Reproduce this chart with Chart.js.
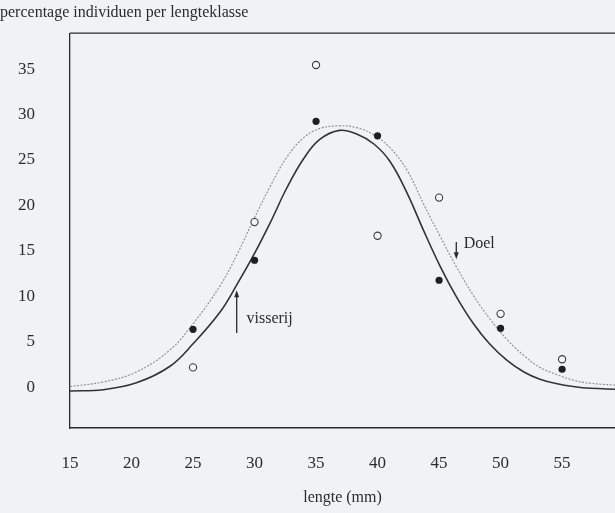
<!DOCTYPE html>
<html>
<head>
<meta charset="utf-8">
<script src="https://cdn.jsdelivr.net/npm/chart.js@4.4.1/dist/chart.umd.min.js"></script>
<style>
    html, body { margin: 0; padding: 0; background: #eff3f4; }
    #wrap { width: 615px; height: 513px; position: relative; }
</style>
</head>
<body>
<div id="wrap"><canvas id="grafiek" width="615" height="513"></canvas></div>
<script>
// lengteklassen (mm) van de meetpunten
const lengtes = [25, 30, 35, 40, 45, 50, 55];
const gevuld = [6.8, 14.4, 29.7, 28.1, 12.2, 6.9, 2.4];   // dichte bolletjes
const open = [2.6, 18.6, 35.9, 17.1, 21.3, 8.5, 3.5];     // open bolletjes

const curveX = [15, 17.7, 20.4, 23.1, 25, 27.2, 28.6, 29.9, 31.3, 32.6, 34, 35.3, 36.9, 38.3, 39.7, 41, 42.4, 43.7, 45.1, 46.4, 47.8, 49.1, 50.5, 51.9, 53.2, 54.6, 55.9, 57.3, 59.4];
const curveVisserij = [0, 0.15, 0.9, 2.7, 5.2, 8.7, 11.8, 14.9, 18.6, 22.3, 25.6, 27.7, 28.7, 28.3, 27.2, 25.3, 21.8, 17.8, 13.7, 10.4, 7.4, 5.2, 3.4, 2.1, 1.3, 0.8, 0.5, 0.3, 0.2];
const curveDoel = [0.5, 1.0, 2.1, 4.5, 7.4, 11.6, 15.1, 18.8, 22.6, 25.7, 27.9, 28.9, 29.2, 29.0, 28.2, 26.8, 24.3, 20.7, 17.0, 13.7, 10.5, 8.0, 5.7, 3.9, 2.6, 1.8, 1.2, 0.85, 0.65];

const xTicks = [15, 20, 25, 30, 35, 40, 45, 50, 55];
const yTicks = [0, 5, 10, 15, 20, 25, 30, 35];

const serif = "'Liberation Serif', 'DejaVu Serif', serif";
const inkt = '#2b2b2b';

function punten(xs, ys) {
    return xs.map((x, i) => ({ x: x, y: ys[i] }));
}

// geen extra ruimte rond de assen, het kader loopt door tot de rand
function vastePadding(as) {
    as.paddingTop = 0;
    as.paddingBottom = 0;
    as.paddingLeft = 0;
    as.paddingRight = 0;
}

// pijltjes + tekst bij de curves en het kader bovenaan
const extraTekening = {
    id: 'extraTekening',
    afterDatasetsDraw(chart) {
        const { ctx, chartArea, scales: { x, y } } = chart;
        ctx.save();
        ctx.strokeStyle = inkt;
        ctx.fillStyle = inkt;
        ctx.lineWidth = 1.3;

        // bovenlijn van het kader
        ctx.beginPath();
        ctx.moveTo(chartArea.left, chartArea.top);
        ctx.lineTo(chartArea.right, chartArea.top);
        ctx.stroke();

        pijl(ctx, x.getPixelForValue(28.55), y.getPixelForValue(6.4), y.getPixelForValue(11.1));
        pijl(ctx, x.getPixelForValue(46.4), y.getPixelForValue(16.4), y.getPixelForValue(14.5));

        ctx.font = '16px ' + serif;
        ctx.textBaseline = 'middle';
        ctx.textAlign = 'left';
        ctx.fillText('visserij', x.getPixelForValue(29.35), y.getPixelForValue(8.0));
        ctx.fillText('Doel', x.getPixelForValue(47.0), y.getPixelForValue(16.2));
        ctx.restore();
    }
};

function pijl(ctx, px, yStart, yEind) {
    const richting = yEind < yStart ? 1 : -1;
    ctx.beginPath();
    ctx.moveTo(px, yStart);
    ctx.lineTo(px, yEind + richting * 4);
    ctx.stroke();
    ctx.beginPath();
    ctx.moveTo(px, yEind);
    ctx.lineTo(px - 2.5, yEind + richting * 7);
    ctx.lineTo(px + 2.5, yEind + richting * 7);
    ctx.closePath();
    ctx.fill();
}

new Chart(document.getElementById('grafiek'), {
    type: 'scatter',
    data: {
        datasets: [
            {
                label: 'gevuld',
                data: punten(lengtes, gevuld),
                pointRadius: 3.6,
                pointBackgroundColor: '#1f1f1f',
                pointBorderColor: '#1f1f1f',
                pointBorderWidth: 0
            },
            {
                label: 'open',
                data: punten(lengtes, open),
                pointRadius: 3.6,
                pointBackgroundColor: '#f4f6f7',
                pointBorderColor: '#3a3a3a',
                pointBorderWidth: 1.1
            },
            {
                label: 'visserij',
                data: punten(curveX, curveVisserij),
                showLine: true,
                pointRadius: 0,
                borderColor: '#333',
                borderWidth: 1.6,
                tension: 0.4
            },
            {
                label: 'doel',
                data: punten(curveX, curveDoel),
                showLine: true,
                pointRadius: 0,
                borderColor: '#8a8a8a',
                borderWidth: 1.1,
                borderDash: [2, 1.5],
                tension: 0.4
            }
        ]
    },
    options: {
        responsive: false,
        animation: false,
        layout: { padding: 0, autoPadding: false },
        plugins: {
            legend: { display: false },
            tooltip: { enabled: false },
            title: {
                display: true,
                text: 'percentage individuen per lengteklasse',
                align: 'start',
                color: inkt,
                font: { family: serif, size: 16, weight: 'normal' },
                padding: { top: 3, bottom: 11 }
            }
        },
        scales: {
            x: {
                type: 'linear',
                min: 15,
                max: 59.3,
                afterBuildTicks: (as) => { as.ticks = xTicks.map(v => ({ value: v })); },
                afterFit: (as) => { as.height = 85; vastePadding(as); },
                grid: { display: false },
                border: { display: true, color: inkt, width: 1.5 },
                ticks: {
                    color: inkt,
                    font: { family: serif, size: 17 },
                    padding: 17,
                    maxRotation: 0
                },
                title: {
                    display: true,
                    text: 'lengte (mm)',
                    color: inkt,
                    font: { family: serif, size: 16 },
                    padding: { top: 0, bottom: 6 }
                }
            },
            y: {
                type: 'linear',
                min: -4.07,
                max: 39.4,
                afterBuildTicks: (as) => { as.ticks = yTicks.map(v => ({ value: v })); },
                afterFit: (as) => { as.width = 70; vastePadding(as); },
                grid: { display: false },
                border: { display: true, color: inkt, width: 1.3 },
                ticks: {
                    color: inkt,
                    font: { family: serif, size: 17 },
                    padding: 27,
                    labelOffset: -4
                }
            }
        }
    },
    plugins: [extraTekening]
});
</script>
</body>
</html>
